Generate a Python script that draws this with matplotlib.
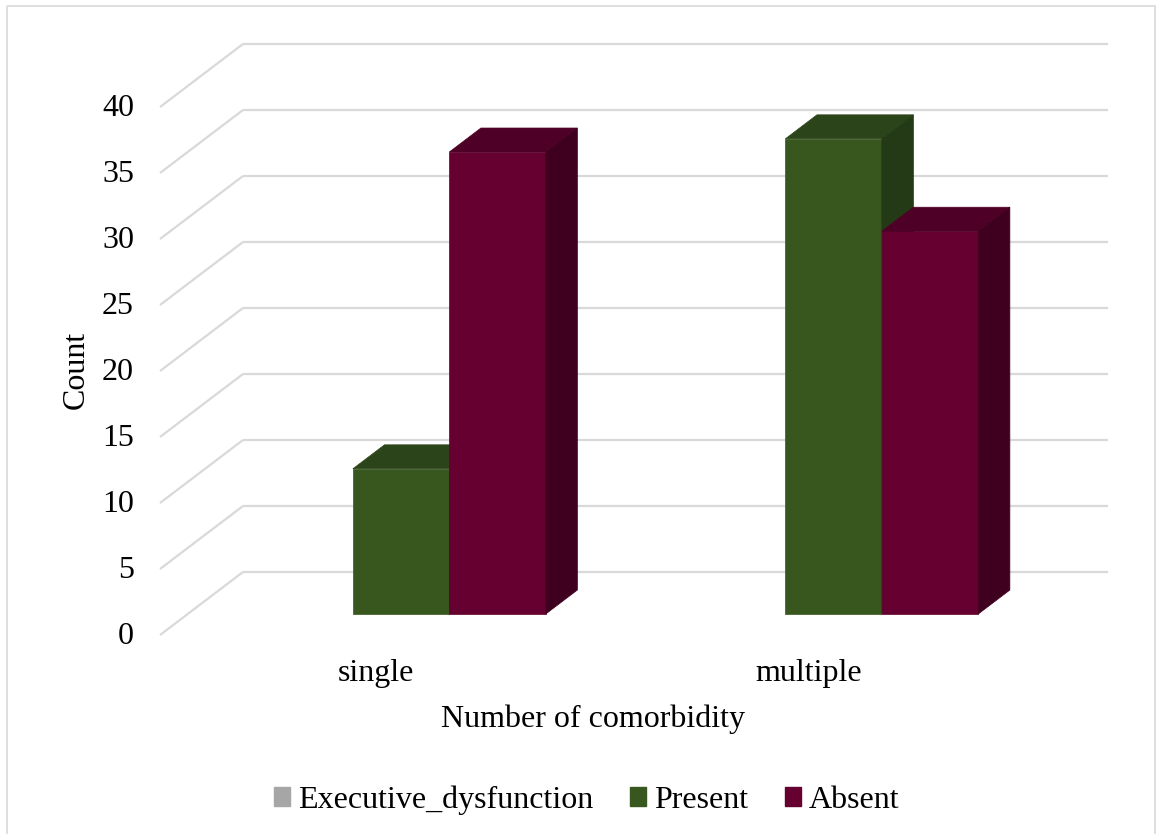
import matplotlib.pyplot as plt
from matplotlib.patches import Polygon, Patch, Rectangle

plt.rcParams['font.family'] = ['Liberation Serif', 'DejaVu Serif']

categories = ['single', 'multiple']
series = ['Present', 'Absent']
present = [11, 36]
absent = [35, 29]
yticks = [0, 5, 10, 15, 20, 25, 30, 35, 40]

# face colours: front, top, side
colors = {
    'Present': ('#38571f', '#2c4419', '#243a16'),
    'Absent': ('#650030', '#4f0026', '#3f0020'),
}
FS = 23

# oblique projection of (category position, value, depth) into figure pixels
X0, CAT_W = 160, 432.5
BASE_Y, PX_PER_UNIT = 635, 13.2
DEPTH_DX, DEPTH_DY = 83, -63


def proj(u, v, z):
    return (X0 + CAT_W * u + DEPTH_DX * z, BASE_Y - PX_PER_UNIT * v + DEPTH_DY * z)


fig = plt.figure(figsize=(11.6, 8.34), dpi=100)
ax = fig.add_axes([0, 0, 1, 1])
ax.set_xlim(0, 1160)
ax.set_ylim(834, 0)
ax.axis('off')

ax.add_patch(Rectangle((7, 6), 1148, 840, fill=False, edgecolor='#d9d9d9', lw=1.2))

grid_kw = dict(color='#d9d9d9', lw=1.6, zorder=1, solid_capstyle='butt')
for v in yticks:
    (xa, ya), (xb, yb) = proj(0, v, 0), proj(0, v, 1)
    ax.plot([xa, xb], [ya, yb], **grid_kw)
    (xc, yc) = proj(len(categories), v, 1)
    ax.plot([xb, xc], [yb, yc], **grid_kw)
    ax.text(xa - 26, ya + 1, str(v), ha='right', va='center', fontsize=FS)


def bar3d(u0, u1, v, name):
    front, top, side = colors[name]
    zf, zb = 0.333, 0.714
    faces = [
        ([proj(u0, 0, zf), proj(u1, 0, zf), proj(u1, v, zf), proj(u0, v, zf)], front),
        ([proj(u0, v, zf), proj(u1, v, zf), proj(u1, v, zb), proj(u0, v, zb)], top),
        ([proj(u1, 0, zf), proj(u1, 0, zb), proj(u1, v, zb), proj(u1, v, zf)], side),
    ]
    for pts, c in faces:
        ax.add_patch(Polygon(pts, closed=True, facecolor=c, edgecolor=c, lw=0.5, zorder=3))


bar_start, bar_w = 0.382, 0.223
for i, cat in enumerate(categories):
    for j, (name, vals) in enumerate(zip(series, [present, absent])):
        u0 = i + bar_start + j * bar_w
        bar3d(u0, u0 + bar_w, vals[i], name)
    lx, ly = proj(i + 0.5, 0, 0)
    ax.text(lx, ly + 38, cat, ha='center', va='center', fontsize=FS)

ax.text(593, 719, 'Number of comorbidity', ha='center', va='center', fontsize=FS)
ax.text(76, 370, 'Count', ha='center', va='center', rotation=90, fontsize=FS)

handles = [Patch(color='#a6a6a6', label='Executive_dysfunction'),
           Patch(color=colors['Present'][0], label='Present'),
           Patch(color=colors['Absent'][0], label='Absent')]
ax.legend(handles=handles, loc='center', bbox_to_anchor=(587 / 1160, 1 - 800 / 834),
          ncol=3, frameon=False, fontsize=FS, handlelength=0.5, handleheight=0.5,
          handletextpad=0.25, columnspacing=1.15)

fig.savefig('out.png', dpi=100)
